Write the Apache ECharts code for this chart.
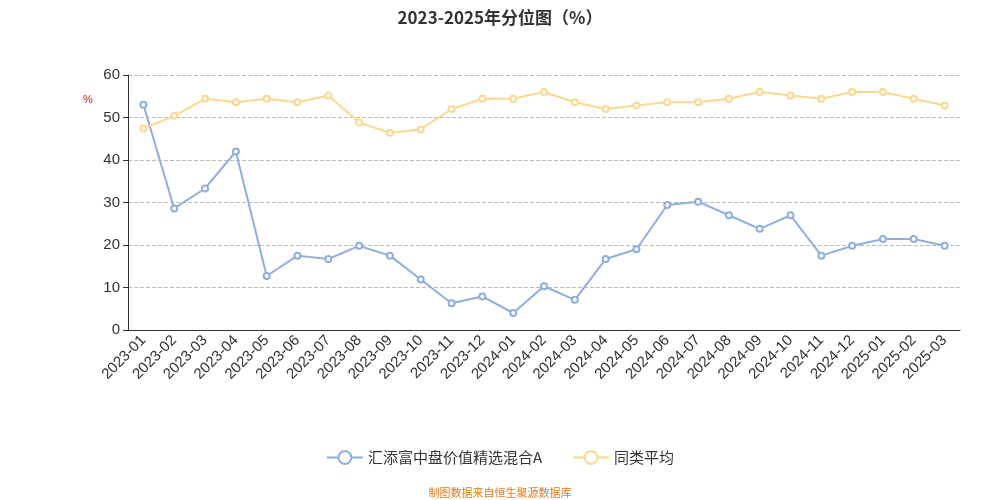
<!DOCTYPE html>
<html>
<head>
<meta charset="utf-8">
<script src="https://cdn.jsdelivr.net/npm/echarts@6/dist/echarts.min.js"></script>
<style>html,body{margin:0;padding:0;}#chart{width:1000px;height:500px;}</style>
</head>
<body>
<div id="chart"></div>
<script>
var months = ['2023-01','2023-02','2023-03','2023-04','2023-05','2023-06','2023-07','2023-08','2023-09','2023-10','2023-11','2023-12',
    '2024-01','2024-02','2024-03','2024-04','2024-05','2024-06','2024-07','2024-08','2024-09','2024-10','2024-11','2024-12',
    '2025-01','2025-02','2025-03'];
var fundValues = [53, 28.6, 33.3, 42, 12.7, 17.5, 16.7, 19.8, 17.5, 11.9, 6.3, 7.9, 4, 10.3, 7.1, 16.7, 19, 29.4, 30.2, 27, 23.8, 27, 17.5, 19.8, 21.4, 21.4, 19.8];
var peerValues = [47.4, 50.4, 54.4, 53.6, 54.4, 53.6, 55.2, 48.8, 46.4, 47.2, 52, 54.4, 54.4, 56, 53.6, 52, 52.8, 53.6, 53.6, 54.4, 56, 55.2, 54.4, 56, 56, 54.4, 52.8];

var chart = echarts.init(document.getElementById('chart'));
chart.setOption({
    title: {
        text: '2023-2025年分位图（%）', left: 'center', top: 4,
        textStyle: {fontSize: 17, fontWeight: 'bold', color: '#333', fontFamily: 'Noto Sans CJK SC'}
    },
    color: ['#8eaee0', '#fbd88f'],
    legend: {
        bottom: 30, itemGap: 30, itemWidth: 36, itemHeight: 16,
        textStyle: {fontSize: 15, color: '#333', fontFamily: 'Noto Sans CJK SC'},
        data: ['汇添富中盘价值精选混合A', '同类平均']
    },
    graphic: [
        {type: 'text', left: 'center', bottom: 2,
            style: {text: '制图数据来自恒生聚源数据库', fill: '#e07b22', fontSize: 11, fontFamily: 'Noto Sans CJK SC'}},
        {type: 'text', left: 83, top: 94,
            style: {text: '%', fill: '#e02020', fontSize: 11}}
    ],
    grid: {left: 128, right: 40, top: 75, bottom: 170},
    xAxis: {
        type: 'category', data: months,
        axisLine: {lineStyle: {color: '#333'}},
        axisLabel: {rotate: 45, fontSize: 15, color: '#333', interval: 0}
    },
    yAxis: {
        type: 'value', min: 0, max: 60, interval: 10,
        axisLine: {show: true, lineStyle: {color: '#333'}},
        axisTick: {show: true},
        axisLabel: {fontSize: 15, color: '#333'},
        splitLine: {lineStyle: {type: 'dashed', color: '#bbb'}}
    },
    series: [
        {name: '汇添富中盘价值精选混合A', type: 'line', data: fundValues, symbol: 'emptyCircle', symbolSize: 6,
            itemStyle: {color: '#8eaee0'}, lineStyle: {width: 2, color: '#8eaee0'}},
        {name: '同类平均', type: 'line', data: peerValues, symbol: 'emptyCircle', symbolSize: 6,
            itemStyle: {color: '#fbd88f'}, lineStyle: {width: 2, color: '#fbd88f'}}
    ]
});
</script>
</body>
</html>
